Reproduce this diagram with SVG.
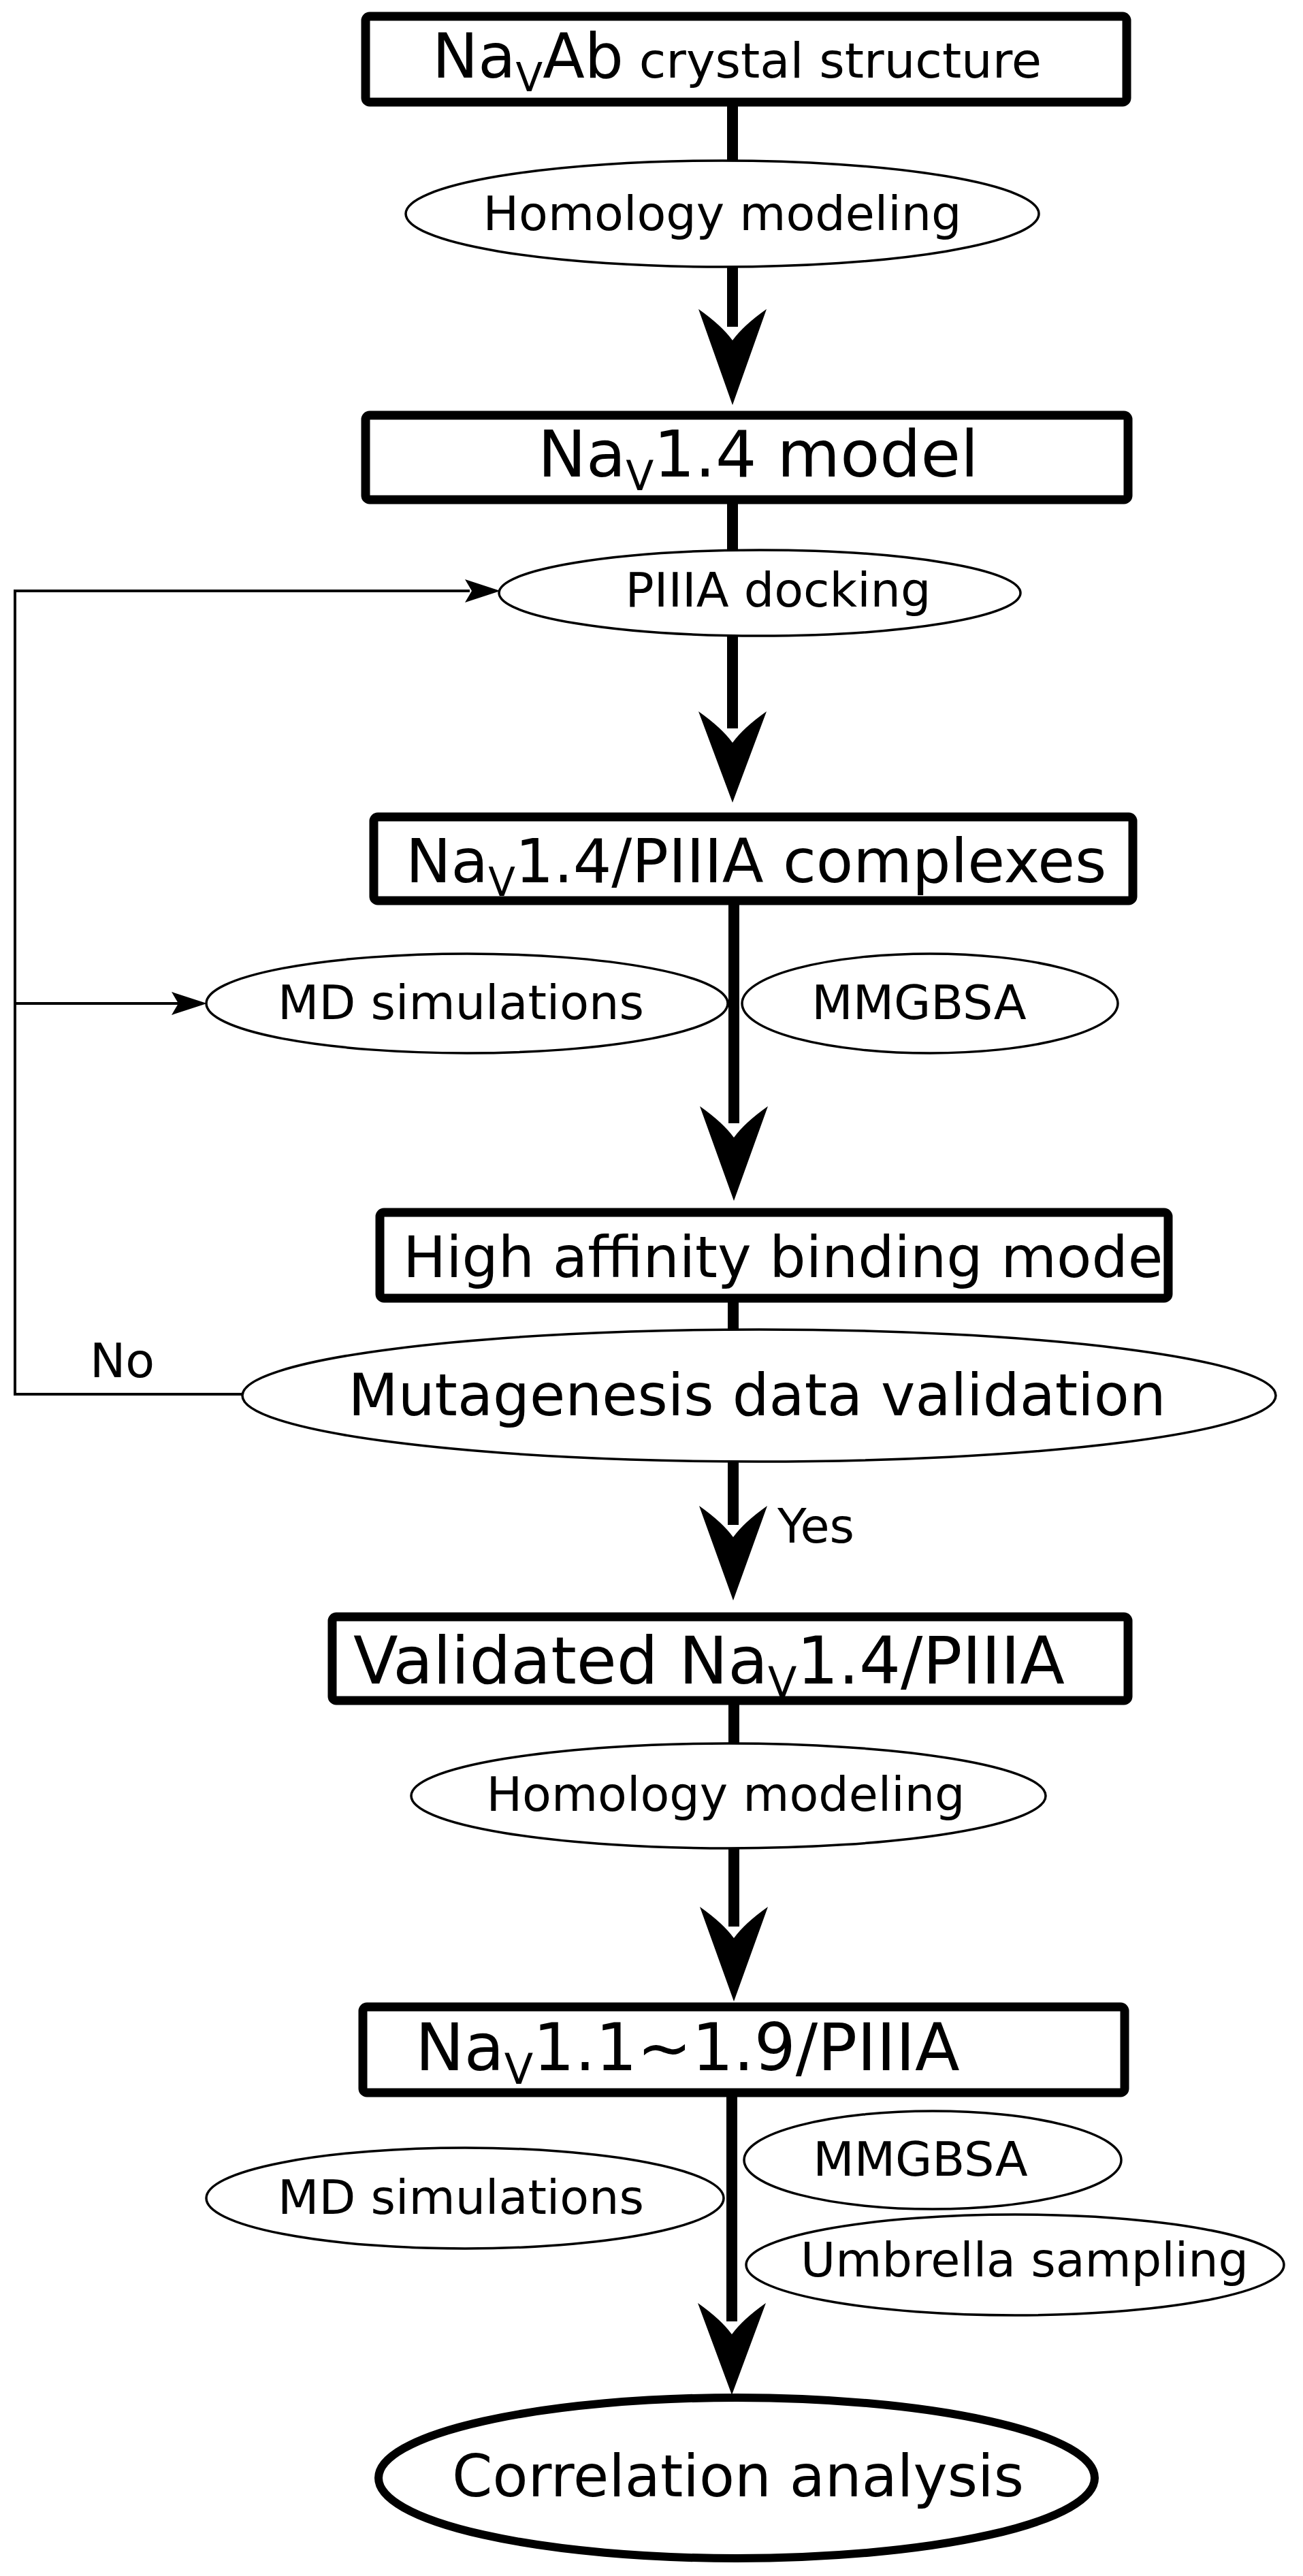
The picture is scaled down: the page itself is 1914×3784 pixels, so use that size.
<svg xmlns="http://www.w3.org/2000/svg" width="1914" height="3784" viewBox="0 0 1914 3784">
<style>
text{font-family:"DejaVu Sans","Liberation Sans",sans-serif;fill:#000}
.box{fill:#fff;stroke:#000;stroke-width:13}
.ell{fill:#fff;stroke:#000;stroke-width:3.5}
.spine{stroke:#000;stroke-width:16;fill:none}
.thin{stroke:#000;stroke-width:4;fill:none}
.head{fill:#000}
.s{font-size:70px}
</style>
<g id="connectors">
<line class="spine" x1="1076" y1="156" x2="1076" y2="480"/>
<path class="head" d="M1076,595 L1026,454 Q1060,478 1076,500 Q1092,478 1126,454 Z"/>
<line class="spine" x1="1076" y1="740" x2="1076" y2="1070"/>
<path class="head" d="M1076,1179 L1026,1045 Q1060,1069 1076,1091 Q1092,1069 1126,1045 Z"/>
<line class="spine" x1="1078" y1="1329" x2="1078" y2="1650"/>
<path class="head" d="M1078,1764 L1028,1625 Q1062,1649 1078,1671 Q1094,1649 1128,1625 Z"/>
<line class="spine" x1="1077" y1="1913" x2="1077" y2="2240"/>
<path class="head" d="M1077,2351 L1027,2212 Q1061,2236 1077,2258 Q1093,2236 1127,2212 Z"/>
<line class="spine" x1="1078" y1="2504" x2="1078" y2="2830"/>
<path class="head" d="M1078,2940 L1028,2801 Q1062,2825 1078,2847 Q1094,2825 1128,2801 Z"/>
<line class="spine" x1="1075" y1="3080" x2="1075" y2="3410"/>
<path class="head" d="M1075,3518 L1025,3383 Q1059,3407 1075,3429 Q1091,3407 1125,3383 Z"/>
<polyline class="thin" points="357,2048 22,2048 22,868 690,868"/>
<path class="head" d="M735,868 L683,851 L693,868 L683,885 Z"/>
<line class="thin" x1="22" y1="1474" x2="262"  y2="1474"/>
<path class="head" d="M304,1474 L252,1457 L262,1474 L252,1491 Z"/>
<text x="132" y="2023" class="s">No</text>
<text x="1142" y="2266" class="s">Yes</text>
</g>
<g id="n1">
<rect class="box" x="537" y="24" width="1118" height="126" rx="6"/>
<text x="635" y="114" font-size="90">Na<tspan font-size="58" dy="20">V</tspan><tspan dy="-20">Ab</tspan><tspan font-size="72"> crystal structure</tspan></text>
</g>
<g id="e1">
<ellipse class="ell" cx="1061" cy="314" rx="465" ry="78"/>
<text x="1061" y="338" class="s" text-anchor="middle">Homology modeling</text>
</g>
<g id="n2">
<rect class="box" x="537" y="610" width="1120" height="124" rx="6"/>
<text x="790" y="700" font-size="95">Na<tspan font-size="60" dy="20">V</tspan><tspan dy="-20">1.4 model</tspan></text>
</g>
<g id="e2">
<ellipse class="ell" cx="1116" cy="871" rx="383" ry="63"/>
<text x="1143" y="891" class="s" text-anchor="middle">PIIIA docking</text>
</g>
<g id="n3">
<rect class="box" x="549" y="1200" width="1115" height="123" rx="6"/>
<text x="596" y="1296" font-size="89">Na<tspan font-size="58" dy="20">V</tspan><tspan dy="-20">1.4/PIIIA complexes</tspan></text>
</g>
<g id="e3">
<ellipse class="ell" cx="686" cy="1474" rx="383" ry="73"/>
<text x="677" y="1497" class="s" text-anchor="middle">MD simulations</text>
</g>
<g id="e4">
<ellipse class="ell" cx="1366" cy="1474" rx="276" ry="73"/>
<text x="1350" y="1497" class="s" text-anchor="middle">MMGBSA</text>
</g>
<g id="n4">
<rect class="box" x="558" y="1781" width="1158" height="126" rx="6"/>
<text x="592" y="1876" font-size="84">High affinity binding mode</text>
</g>
<g id="e5">
<ellipse class="ell" cx="1115" cy="2050" rx="759" ry="97"/>
<text x="1112" y="2079" font-size="85" text-anchor="middle">Mutagenesis data validation</text>
</g>
<g id="n5">
<rect class="box" x="488" y="2375" width="1169" height="123" rx="6"/>
<text x="519" y="2473" font-size="96">Validated Na<tspan font-size="62" dy="20">V</tspan><tspan dy="-20">1.4/PIIIA</tspan></text>
</g>
<g id="e6">
<ellipse class="ell" cx="1070" cy="2638" rx="466" ry="77"/>
<text x="1066" y="2660" class="s" text-anchor="middle">Homology modeling</text>
</g>
<g id="n6">
<rect class="box" x="533" y="2948" width="1119" height="126" rx="6"/>
<text x="610" y="3041" font-size="96">Na<tspan font-size="62" dy="20">V</tspan><tspan dy="-20">1.1~1.9/PIIIA</tspan></text>
</g>
<g id="e7">
<ellipse class="ell" cx="683" cy="3229" rx="380" ry="74"/>
<text x="677" y="3252" class="s" text-anchor="middle">MD simulations</text>
</g>
<g id="e8">
<ellipse class="ell" cx="1370" cy="3173" rx="277" ry="72"/>
<text x="1352" y="3196" class="s" text-anchor="middle">MMGBSA</text>
</g>
<g id="e9">
<ellipse class="ell" cx="1491" cy="3327" rx="395" ry="74"/>
<text x="1505" y="3344" class="s" text-anchor="middle">Umbrella sampling</text>
</g>
<g id="e10">
<ellipse cx="1082" cy="3640" rx="526" ry="118" fill="#fff" stroke="#000" stroke-width="12"/>
<text x="1084" y="3667" font-size="85" text-anchor="middle">Correlation analysis</text>
</g>
</svg>
